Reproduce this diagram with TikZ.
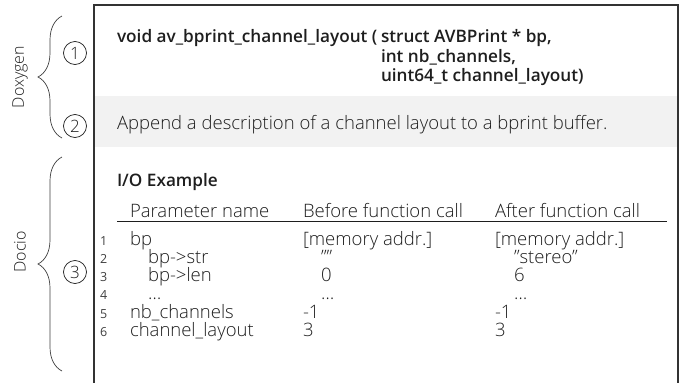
\documentclass[tikz,border=0pt]{standalone}
\usepackage{fontspec}
\IfFontExistsTF{Open Sans Light}{%
  \setmainfont{Open Sans Light}[BoldFont={Open Sans}]%
}{%
  \setmainfont{Open Sans}%
}
\IfFontExistsTF{Open Sans Semibold}{%
  \newfontfamily\semibf{Open Sans Semibold}%
}{%
  \newfontfamily\semibf{Open Sans}%
}
\newfontfamily\regsans{Open Sans}
\usetikzlibrary{decorations.pathreplacing}
\definecolor{txt}{HTML}{1E1E1E}
\definecolor{band}{HTML}{F2F2F2}
\definecolor{frame}{HTML}{333333}
\begin{document}
\begin{tikzpicture}[x=1pt,y=-1pt,
  every node/.style={inner sep=0pt,outer sep=0pt,text=txt},
  body/.style={anchor=base west,font=\fontsize{18.5}{20}\selectfont},
  titletxt/.style={anchor=base west,font=\fontsize{17.2}{20}\selectfont\semibf},
  lno/.style={anchor=base west,font=\fontsize{12.5}{14}\selectfont\regsans,text=txt!85},
  num/.style={circle,draw=txt,line width=0.7pt,minimum size=23pt,font=\fontsize{17}{19}\selectfont},
  bracestyle/.style={draw=txt!85,line width=0.7pt,decorate,decoration={brace,amplitude=24pt}},
  side/.style={rotate=90,font=\fontsize{16}{18}\selectfont}]
\useasboundingbox (0,0) rectangle (686,383);
\fill[white] (0,0) rectangle (686,383);
% gray band
\fill[band] (94,96) rectangle (678,147);
% frame
\coordinate (fbl) at (94,383);
\coordinate (ftl) at (94,5);
\coordinate (ftr) at (678,5);
\coordinate (fbr) at (678,383);
\draw[frame,line width=1.2pt] (fbl) -- (ftl) -- (ftr) -- (fbr);
% braces
\coordinate (b1s) at (62,138);
\coordinate (b1e) at (62,16);
\coordinate (b2s) at (62,371);
\coordinate (b2e) at (62,157);
\draw[bracestyle] (b1s) -- (b1e);
\draw[bracestyle] (b2s) -- (b2e);
\node[side] (doxy) at (20,77) {Doxygen};
\node[side] (docio) at (20,252) {Docio};
% circled numbers
\node[num] (c1) at (75,53) {1};
\node[num] (c2) at (75,126) {2};
\node[num] (c3) at (75,272) {3};
% title
\node[titletxt] (t0) at (117,42) {void av\_bprint\_channel\_layout (};
\node[titletxt] (t1) at (381,42) {struct AVBPrint * bp,};
\node[titletxt] (t2) at (381,62) {int nb\_channels,};
\node[titletxt] (t3) at (381,81) {uint64\_t channel\_layout)};
% description
\node[body] (desc) at (117,129) {Append a description of a channel layout to a bprint buffer.};
% I/O example
\node[titletxt] (io) at (117,186) {I/O Example};
\node[body] (h1) at (130,217) {Parameter name};
\node[body] (h2) at (303,217) {Before function call};
\node[body] (h3) at (495,217) {After function call};
\coordinate (rl) at (117,221);
\coordinate (rr) at (667,221);
\draw[txt,line width=0.9pt] (rl) -- (rr);
% rows
\node[lno] (n1) at (100,245) {1};
\node[lno] (n2) at (100,263) {2};
\node[lno] (n3) at (100,281) {3};
\node[lno] (n4) at (100,299) {4};
\node[lno] (n5) at (100,318) {5};
\node[lno] (n6) at (100,336) {6};
\node[body] (p1) at (130,245) {bp};
\node[body] (p2) at (148,263) {bp->str};
\node[body] (p3) at (148,281) {bp->len};
\node[body] (p4) at (148,299) {\dots};
\node[body] (p5) at (130,318) {nb\_channels};
\node[body] (p6) at (130,336) {channel\_layout};
\node[body] (a1) at (303,245) {[memory addr.]};
\node[body] (a2) at (321,263) {\char"22\char"22};
\node[body] (a3) at (321,281) {0};
\node[body] (a4) at (321,299) {\dots};
\node[body] (a5) at (303,318) {-1};
\node[body] (a6) at (303,336) {3};
\node[body] (b1) at (495,245) {[memory addr.]};
\node[body] (b2) at (514,263) {\char"22 stereo\char"22};
\node[body] (b3) at (514,281) {6};
\node[body] (b4) at (514,299) {\dots};
\node[body] (b5) at (495,318) {-1};
\node[body] (b6) at (495,336) {3};
\end{tikzpicture}
\end{document}
